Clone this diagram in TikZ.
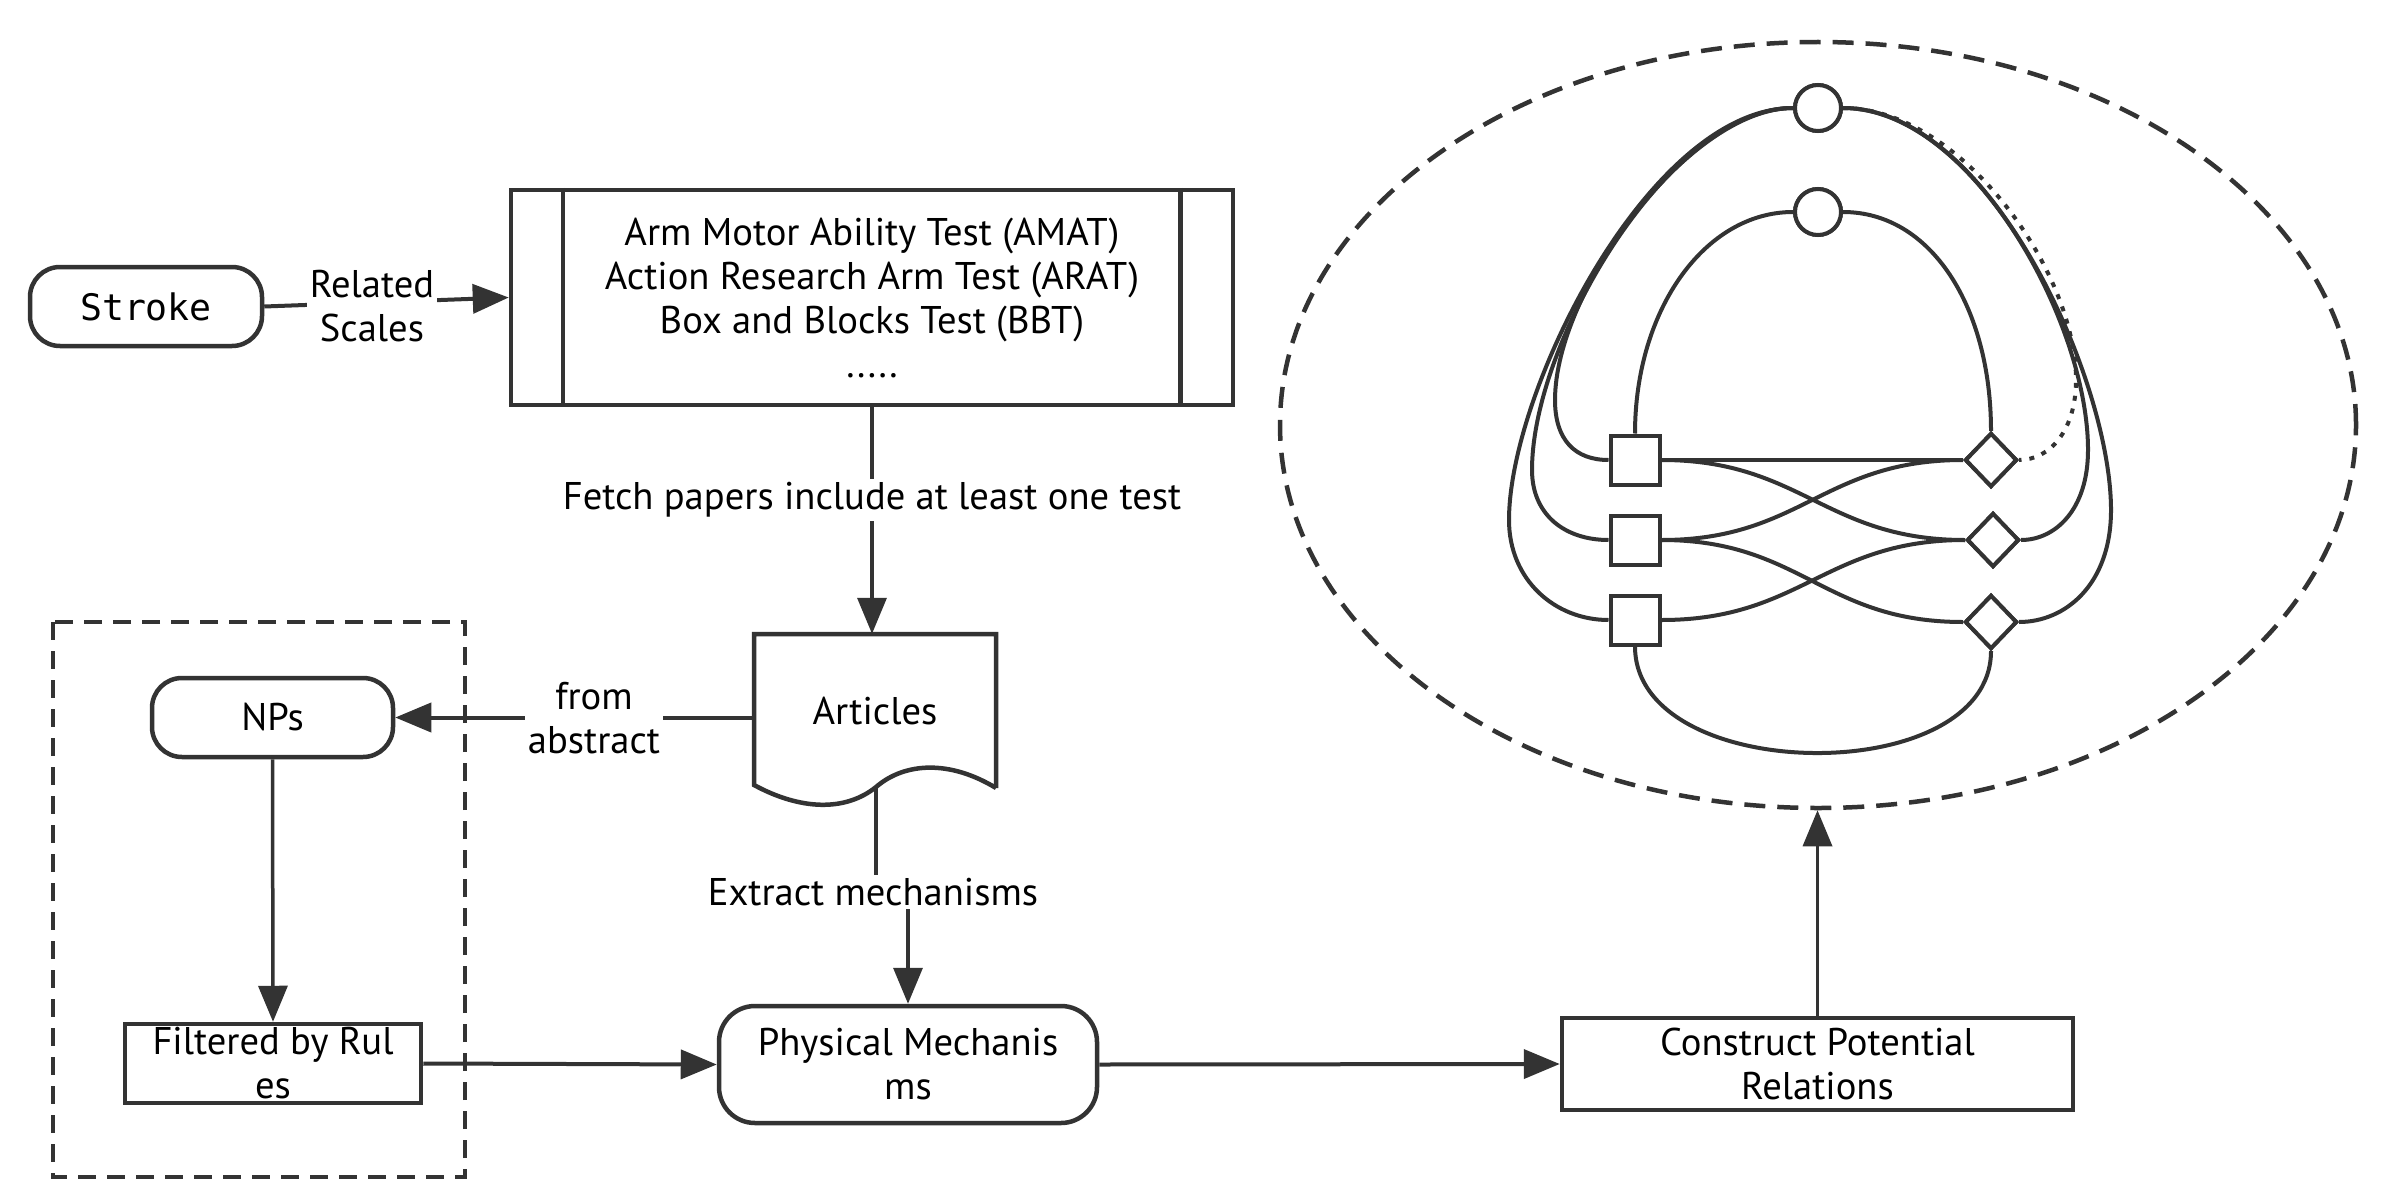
\documentclass[tikz,border=0pt]{standalone}
\usepackage{fontspec}
\setmainfont{PT Sans}
\setmonofont{DejaVu Sans Mono}
\usetikzlibrary{arrows.meta,shapes.geometric,calc}
\definecolor{ln}{RGB}{51,51,51}
\newcommand\dtxt{\fontsize{38.6}{44}\selectfont}
\newcommand\dmono{\ttfamily\fontsize{36.5}{44}\selectfont}
\begin{document}
\begin{tikzpicture}[x=1pt,y=-1pt,
  box/.style={draw=ln, line width=4.5pt, inner sep=0pt, font=\dtxt, align=center, text=black},
  term/.style={box, rounded corners=30pt},
  boxline/.style={draw=ln, line width=4.5pt},
  conn/.style={draw=ln, line width=4pt, -{Triangle[length=36pt,width=29pt]}},
  vconn/.style={conn, line width=3.5pt},
  lbl/.style={fill=white, inner sep=3pt, font=\dtxt, align=center, text=black},
  gline/.style={draw=ln, line width=4pt},
  gsq/.style={draw=ln, line width=4pt, fill=white, minimum size=49pt, inner sep=0pt},
  gdia/.style={draw=ln, line width=4pt, fill=white, diamond, aspect=1, minimum width=52pt, minimum height=54pt, inner sep=0pt},
  gcir/.style={draw=ln, line width=4pt, fill=white, circle, minimum size=46pt, inner sep=0pt}
]
\useasboundingbox (0,0) rectangle (2390,1204);

% ---------- main flow nodes ----------
\node[term, minimum width=232pt, minimum height=79pt, font=\dmono] (stroke) at (146,306.5) {Stroke};
\node[box, minimum width=722pt, minimum height=215pt] (scales) at (872,297.5)
  {Arm Motor Ability Test (AMAT)\\Action Research Arm Test (ARAT)\\Box and Blocks Test (BBT)\\.....};
\draw[boxline] ([xshift=54pt]scales.north west) -- ([xshift=54pt]scales.south west);
\draw[boxline] ([xshift=-55pt]scales.north east) -- ([xshift=-55pt]scales.south east);

\node[inner sep=0pt, minimum width=242pt, minimum height=154pt, font=\dtxt] (art) at (875,711) {Articles};
\draw[boxline, line join=miter] (996,788) -- (996,634) -- (754,634) -- (754,785)
  .. controls (800,810) and (845,812) .. (876,787)
  .. controls (905,762) and (950,760) .. (996,788);
\coordinate (artS) at (876,787);

\node[term, minimum width=241pt, minimum height=79pt] (nps) at (272.5,717.5) {NPs};
\node[box, minimum width=296pt, minimum height=79pt] (filt) at (273,1063.5) {Filtered by Rul\\es};
\node[term, rounded corners=36pt, minimum width=378pt, minimum height=117pt] (phys) at (908,1064.5) {Physical Mechanis\\ms};
\node[box, minimum width=511pt, minimum height=92pt] (cons) at (1817.5,1064) {Construct Potential\\Relations};

\draw[draw=ln, line width=4.5pt, dash pattern=on 18pt off 11pt] (53,622) rectangle (465,1177);

\node[ellipse, draw=ln, line width=4.5pt, dash pattern=on 21pt off 12pt, minimum width=1076pt, minimum height=766pt] (ell) at (1818,425) {};

% ---------- connectors ----------
\draw[conn] (stroke.east) -- (scales.west);
\node[lbl] (lrel) at (372,306) {Related\\Scales};

\draw[vconn] (scales.south) -- (scales.south |- art.north);
\node[lbl] (lfetch) at (872,500) {Fetch papers include at least one test};

\draw[conn] (art.west |- nps.east) -- (nps.east);
\node[lbl] (labs) at (594,718) {from\\abstract};

\draw[vconn] (artS) -- (876,892) -| (phys.north);
\node[lbl] (lext) at (873,892) {Extract mechanisms};

\draw[vconn] (nps.south) -- (filt.north);
\draw[conn] (filt.east) -- (phys.west);
\draw[conn] (phys.east) -- (cons.west);
\draw[vconn] (cons.north) -- (cons.north |- ell.south);

% ---------- graph inside ellipse ----------
\coordinate (c1p) at (1818,108);
\coordinate (c2p) at (1818,212);
\coordinate (s1p) at (1635,460);
\coordinate (s2p) at (1635,540);
\coordinate (s3p) at (1635,620);
\coordinate (d1p) at (1991,460);
\coordinate (d2p) at (1993,540);
\coordinate (d3p) at (1991,622);

\path (s1p) node[gsq] (s1) {} (s2p) node[gsq] (s2) {} (s3p) node[gsq] (s3) {}
      (d1p) node[gdia] (d1) {} (d2p) node[gdia] (d2) {} (d3p) node[gdia] (d3) {}
      (c1p) node[gcir] (c1) {} (c2p) node[gcir] (c2) {};

\draw[gline] (s1.north) .. controls +(0,-124) and +(-88,0) .. (c2.west);
\draw[gline] (c2.east) .. controls +(88,0) and +(0,-124) .. (d1.north);
\draw[gline] (s1.east) -- (d1.west);
\draw[gline] (s1.east) .. controls +(140,0) and +(-140,0) .. (d2.west);
\draw[gline] (s2.east) .. controls +(140,0) and +(-140,0) .. (d1.west);
\draw[gline] (s2.east) .. controls +(140,0) and +(-140,0) .. (d3.west);
\draw[gline] (s3.east) .. controls +(140,0) and +(-140,0) .. (d2.west);
\draw[gline] (s3.south) .. controls +(0,139) and +(0,139) .. (d3.south);
% left bundle
\draw[gline] (c1.west) .. controls (1690,108) and (1555,290) .. (1555,400)
  .. controls (1555,440) and (1575,460) .. (s1.west);
\draw[gline] (c1.west) .. controls (1670,108) and (1532,340) .. (1532,470)
  .. controls (1532,515) and (1565,540) .. (s2.west);
\draw[gline] (c1.west) .. controls (1650,108) and (1509,390) .. (1509,520)
  .. controls (1509,580) and (1555,620) .. (s3.west);
% right bundle
\draw[gline, dash pattern=on 5pt off 8pt] (c1.east) .. controls (1960,108) and (2076,270) .. (2076,380)
  .. controls (2076,430) and (2050,460) .. (d1.east);
\draw[gline] (c1.east) .. controls (1970,108) and (2088,320) .. (2088,450)
  .. controls (2088,510) and (2055,540) .. (d2.east);
\draw[gline] (c1.east) .. controls (1990,108) and (2111,380) .. (2111,510)
  .. controls (2111,585) and (2065,622) .. (d3.east);

% nodes on top of their edges
\path (s1p) node[gsq] {} (s2p) node[gsq] {} (s3p) node[gsq] {}
      (d1p) node[gdia] {} (d2p) node[gdia] {} (d3p) node[gdia] {}
      (c1p) node[gcir] {} (c2p) node[gcir] {};
\end{tikzpicture}
\end{document}
